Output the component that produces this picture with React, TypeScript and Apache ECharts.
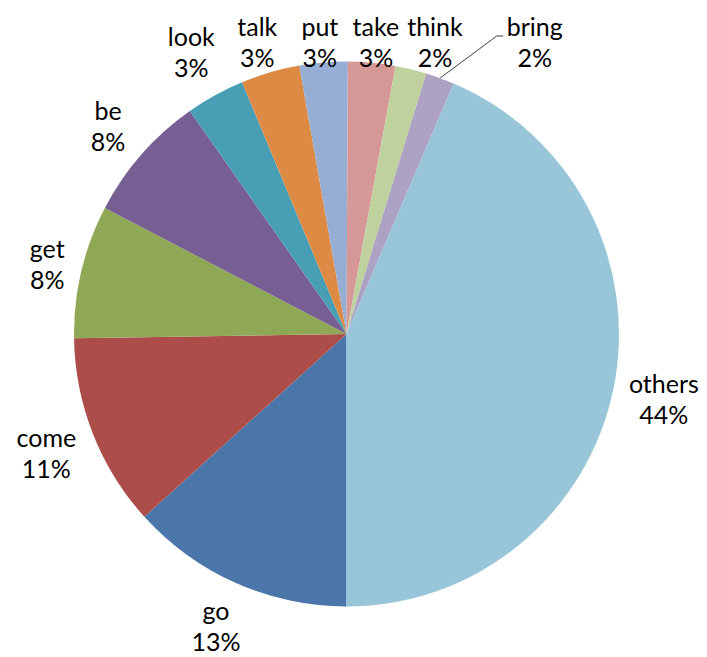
import React, { useEffect, useRef } from 'react';
import * as echarts from 'echarts';

// ---- data ----
const categories = ['go', 'come', 'get', 'be', 'look', 'talk', 'put', 'take', 'think', 'bring', 'others'];
const values = [13.3, 11.45, 7.9, 7.6, 3.49, 3.49, 2.85, 2.8, 1.85, 1.7, 43.57];
const colors = ['#4A76A9', '#AD4D4A', '#8FA856', '#775E93', '#489FB5', '#DD8A45', '#97AED4', '#D59896', '#BFD19D', '#ADA1C4', '#98C6D8'];

// ---- geometry / style ----
const W = 707;
const H = 657;
const CX = 346.5;
const CY = 334;
const R = 272.5;
const FONT_SIZE = 25;
const LINE_H = 31;
const FONT_FAMILY = 'Lato';
const GAP = 11;
const TOP_MARGIN = 10.5;
const BOTTOM_MARGIN = 1;
const ROW_GAP = 8;
const LEADER_EXTRA = 36;

const total = values.reduce((a, b) => a + b, 0);
const pctText = (v: number) => Math.round((v / total) * 100) + '%';

type Lay = { x: number; y: number; hw: number; clamped: boolean; natX: number; ux: number; uy: number; leader: boolean };

function computeLayout(): Lay[] {
  const canvas = document.createElement('canvas');
  const ctx = canvas.getContext('2d')!;
  ctx.font = `${FONT_SIZE}px ${FONT_FAMILY}`;
  let cum = 0;
  const items: Lay[] = categories.map((name, i) => {
    const v = values[i];
    const mid = Math.PI + ((cum + v / 2) / total) * 2 * Math.PI;
    cum += v;
    const ux = Math.sin(mid);
    const uy = -Math.cos(mid);
    const w = Math.max(ctx.measureText(name).width, ctx.measureText(pctText(v)).width);
    const hw = w / 2;
    const hh = LINE_H;
    const d = R + GAP + hw * Math.abs(ux) + hh * Math.abs(uy);
    const x = CX + ux * d;
    let y = CY + uy * d;
    const minY = TOP_MARGIN + hh;
    const maxY = H - BOTTOM_MARGIN - hh;
    const clamped = y < minY;
    if (clamped) y = minY;
    if (y > maxY) y = maxY;
    return { x, y, hw, clamped, natX: x, ux, uy, leader: false };
  });
  const row = items.filter((it) => it.clamped).sort((a, b) => a.x - b.x);
  for (let k = 1; k < row.length; k++) {
    const prev = row[k - 1];
    const cur = row[k];
    const minX = prev.x + prev.hw + ROW_GAP + cur.hw;
    if (cur.x < minX) {
      cur.x = minX;
      if (cur.x - cur.natX > cur.hw) {
        cur.x += LEADER_EXTRA;
        cur.leader = true;
      }
    }
  }
  return items;
}

export default function App() {
  const ref = useRef<HTMLDivElement>(null);
  useEffect(() => {
    if (!ref.current) return;
    const chart = echarts.init(ref.current, undefined, { renderer: 'svg' });
    const layout = computeLayout();
    const data = categories.map((name, i) => ({
      name,
      value: values[i],
      itemStyle: { color: colors[i] },
      labelLine: { show: layout[i].leader },
    }));
    chart.setOption({
      animation: false,
      backgroundColor: '#ffffff',
      series: [
        {
          type: 'pie',
          center: [CX, CY],
          radius: R,
          startAngle: -90,
          clockwise: true,
          silent: true,
          avoidLabelOverlap: false,
          minShowLabelAngle: 0,
          data,
          itemStyle: { borderWidth: 0 },
          label: {
            show: true,
            position: 'outside',
            overflow: 'none',
            formatter: (p: any) => `${p.name}\n${pctText(p.value)}`,
            fontFamily: FONT_FAMILY,
            fontSize: FONT_SIZE,
            lineHeight: LINE_H,
            color: '#000000',
            align: 'center',
          },
          labelLine: {
            show: false,
            lineStyle: { color: '#404040', width: 1 },
          },
          labelLayout: (params: any) => {
            const L = layout[params.dataIndex];
            const res: any = { x: L.x, y: L.y, align: 'center', verticalAlign: 'middle' };
            if (L.leader) {
              const left = L.x - L.hw;
              res.labelLinePoints = [
                [CX + L.ux * R, CY + L.uy * R],
                [left - 10, L.y - 5.5],
                [left - 3.5, L.y - 5.5],
              ];
            }
            return res;
          },
        },
      ],
    });
    return () => chart.dispose();
  }, []);
  return <div ref={ref} style={{ position: 'fixed', left: 0, top: 0, width: W, height: H }} />;
}
